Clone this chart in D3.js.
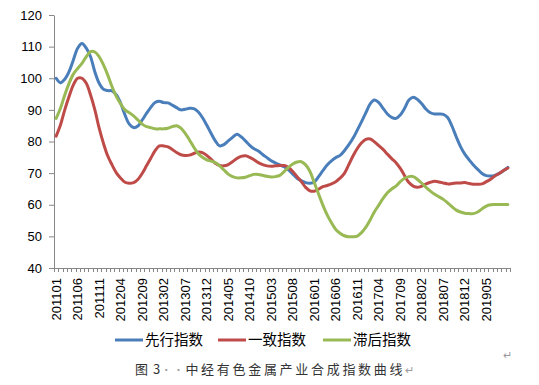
<!DOCTYPE html>
<html>
<head>
<meta charset="utf-8">
<script src="https://cdn.jsdelivr.net/npm/d3@7"></script>
<style>
  body { margin: 0; background: #fff; }
  svg text { font-family: "Liberation Sans", Arial, sans-serif; }
</style>
</head>
<body>
<div id="chart"></div>
<script>
const svgWidth = 539;
const svgHeight = 385;

// monthly categories 201101 .. 201910
const months = [];
for (let y = 2011; y <= 2019; y++) {
    for (let m = 1; m <= 12; m++) {
        if (y === 2019 && m > 10) break;
        months.push(`${y}${String(m).padStart(2, "0")}`);
    }
}

const tickLabels = ["201101", "201106", "201111", "201204", "201209", "201302", "201307",
    "201312", "201405", "201410", "201503", "201508", "201601", "201606", "201611",
    "201704", "201709", "201802", "201807", "201812", "201905"];

const yTicks = [40, 50, 60, 70, 80, 90, 100, 110, 120];

const seriesNames = ["先行指数", "一致指数", "滞后指数"];
const seriesColors = ["#4A7EBB", "#BE4B48", "#98B954"];

const leading = [100, 98.6, 99.7, 102.1, 105.8, 109.5, 111, 109.5, 106.8, 102, 98.4, 96.5, 96.1, 96, 94.7,
    92.1, 88.4, 85.5, 84.4, 84.9, 86.8, 88.9, 90.8, 92.3, 92.7, 92.3, 92.2, 91.5, 90.7, 90, 90.2,
    90.5, 90.4, 89.4, 87.6, 85.2, 82.6, 80.2, 78.6, 79, 80.2, 81.3, 82.3, 81.5, 80.2, 78.8, 77.7,
    77, 75.9, 74.9, 73.9, 73.2, 72.6, 72, 71, 69.7, 68.4, 67.6, 67, 66.8, 67.2, 68.9, 70.8, 72.6,
    73.9, 74.9, 75.6, 77.1, 78.9, 81, 83.6, 86.3, 89.1, 91.9, 93.1, 92.3, 90.5, 88.7, 87.6, 87.3,
    88.4, 90.5, 93.1, 94, 93.3, 91.9, 90.2, 89.1, 88.7, 88.7, 88.6, 87.6, 84.9, 81.5, 78.4, 76,
    74.2, 72.6, 71.2, 69.9, 69.2, 69.1, 69.3, 69.9, 70.8, 71.8];

const coincident = [81.7, 85.2, 90, 94.2, 97.9, 100, 100, 98.4, 94.7, 90, 84.2, 79.4, 75.4, 72.6, 70.1,
    68.4, 67.1, 66.8, 67, 68, 69.9, 72.3, 74.7, 77.1, 78.6, 78.6, 78.3, 77.5, 76.5, 75.8, 75.6,
    75.7, 76.2, 76.7, 76.5, 75.6, 74.4, 73.1, 72.4, 72.3, 72.7, 73.6, 74.6, 75.3, 75.5, 75, 74.2,
    73.3, 72.7, 72.3, 72.2, 72.3, 72.4, 72.4, 71.8, 70.5, 68.9, 67.3, 65.5, 64.4, 64.3, 64.9, 65.7,
    66.1, 66.6, 67.3, 68.4, 69.9, 72.6, 75.4, 77.8, 79.6, 80.7, 80.8, 79.9, 78.7, 77.5, 76, 74.6,
    73.3, 71.5, 69.2, 67, 65.9, 65.5, 65.9, 66.6, 67.1, 67.4, 67.2, 66.9, 66.6, 66.7, 66.9, 66.9,
    67, 66.7, 66.5, 66.5, 66.6, 67.3, 68.1, 69.1, 69.9, 70.8, 71.6];

const lagging = [87.3, 90.5, 94.7, 98.4, 101.3, 103.1, 104.7, 106.8, 108.4, 108.3, 106.8, 104.2, 101, 97.3,
    94.2, 91.9, 90, 89.1, 88.1, 86.8, 85.5, 84.7, 84.4, 84, 84, 84, 84.2, 84.7, 85, 84.2, 82.6,
    80.5, 78.2, 76.2, 75, 74.2, 73.8, 73.3, 72.3, 71, 69.7, 68.9, 68.5, 68.5, 68.7, 69.2, 69.6,
    69.6, 69.3, 69, 68.8, 68.9, 69.3, 70.5, 71.8, 72.9, 73.5, 73.6, 72.6, 70.5, 67, 63.4, 59.9,
    56.8, 54.3, 52.2, 51, 50.2, 49.9, 49.9, 50.1, 51.2, 52.9, 55.2, 57.8, 59.9, 62, 63.8, 65, 65.9,
    67.3, 68.4, 68.9, 68.9, 68, 66.8, 65.5, 64.3, 63.3, 62.5, 61.7, 60.6, 59.4, 58.3, 57.7, 57.3,
    57.2, 57.2, 57.7, 58.7, 59.6, 60, 60.1, 60.1, 60.1, 60.1];

const series = [leading, coincident, lagging];

const plot = {left: 54, right: 510, top: 15, bottom: 268};

const x = d3.scaleBand()
    .domain(months)
    .range([plot.left, plot.right])
    .padding(0);

const y = d3.scaleLinear()
    .domain([40, 120])
    .range([plot.bottom, plot.top]);

const svg = d3.select("#chart")
    .append("svg")
    .attr("width", svgWidth)
    .attr("height", svgHeight);

const axisColor = "#868686";

// Y axis
const yAxis = svg.append("g")
    .attr("transform", `translate(${plot.left},0)`)
    .call(d3.axisLeft(y).tickValues(yTicks).tickSize(5).tickPadding(7).tickSizeOuter(0));
yAxis.select(".domain").attr("stroke", axisColor);
yAxis.selectAll(".tick line").attr("stroke", axisColor);
yAxis.selectAll("text")
    .attr("font-size", "13px")
    .attr("fill", "#000");

// X axis: ticks on category boundaries
const xg = svg.append("g");
xg.append("line")
    .attr("x1", plot.left).attr("x2", plot.right)
    .attr("y1", plot.bottom + 0.5).attr("y2", plot.bottom + 0.5)
    .attr("stroke", axisColor);
xg.selectAll("line.tk")
    .data(months.concat(["end"]))
    .join("line")
    .attr("class", "tk")
    .attr("x1", (d, i) => Math.round(plot.left + i * x.bandwidth()) + 0.5)
    .attr("x2", (d, i) => Math.round(plot.left + i * x.bandwidth()) + 0.5)
    .attr("y1", plot.bottom)
    .attr("y2", plot.bottom + 4)
    .attr("stroke", axisColor);

xg.selectAll("text")
    .data(tickLabels)
    .join("text")
    .attr("transform", d => `translate(${x(d) + x.bandwidth() / 2},${plot.bottom + 10}) rotate(-90)`)
    .attr("text-anchor", "end")
    .attr("dy", "0.35em")
    .attr("font-size", "13px")
    .attr("fill", "#000")
    .text(d => d);

// Lines
const line = d3.line()
    .x((d, i) => x(months[i]) + x.bandwidth() / 2)
    .y(d => y(d))
    .curve(d3.curveCatmullRom.alpha(0.5));

svg.selectAll("path.series")
    .data(series)
    .join("path")
    .attr("class", "series")
    .attr("d", line)
    .attr("fill", "none")
    .attr("stroke", (d, i) => seriesColors[i])
    .attr("stroke-width", 3)
    .attr("stroke-linejoin", "round")
    .attr("stroke-linecap", "round");

// Legend
const legendX = [115, 218, 323];
const legend = svg.append("g");
seriesNames.forEach((name, i) => {
    legend.append("line")
        .attr("x1", legendX[i]).attr("x2", legendX[i] + 28)
        .attr("y1", 340).attr("y2", 340)
        .attr("stroke", seriesColors[i])
        .attr("stroke-width", 3);
    legend.append("text")
        .attr("x", legendX[i] + 30)
        .attr("y", 340)
        .attr("dy", "0.35em")
        .attr("font-size", "14.5px")
        .attr("fill", "#000")
        .style("font-family", "'Noto Sans CJK SC', sans-serif")
        .text(name);
});

// Paragraph marks and caption
svg.append("text")
    .attr("x", 503).attr("y", 359)
    .attr("font-size", "11px")
    .attr("fill", "#999")
    .text("↵");

const caption = svg.append("text")
    .attr("x", 135)
    .attr("y", 374)
    .attr("font-size", "13px")
    .attr("fill", "#333")
    .style("font-family", "'Noto Sans CJK SC', sans-serif");
caption.append("tspan").attr("letter-spacing", "1px").text("图 3");
caption.append("tspan").attr("fill", "#999").attr("font-size", "10px").attr("dx", 0).text("· ·");
caption.append("tspan").attr("dx", 2).attr("letter-spacing", "2.7px").text("中经有色金属产业合成指数曲线");
caption.append("tspan").attr("fill", "#999").attr("font-size", "11px").text("↵");
</script>
</body>
</html>
